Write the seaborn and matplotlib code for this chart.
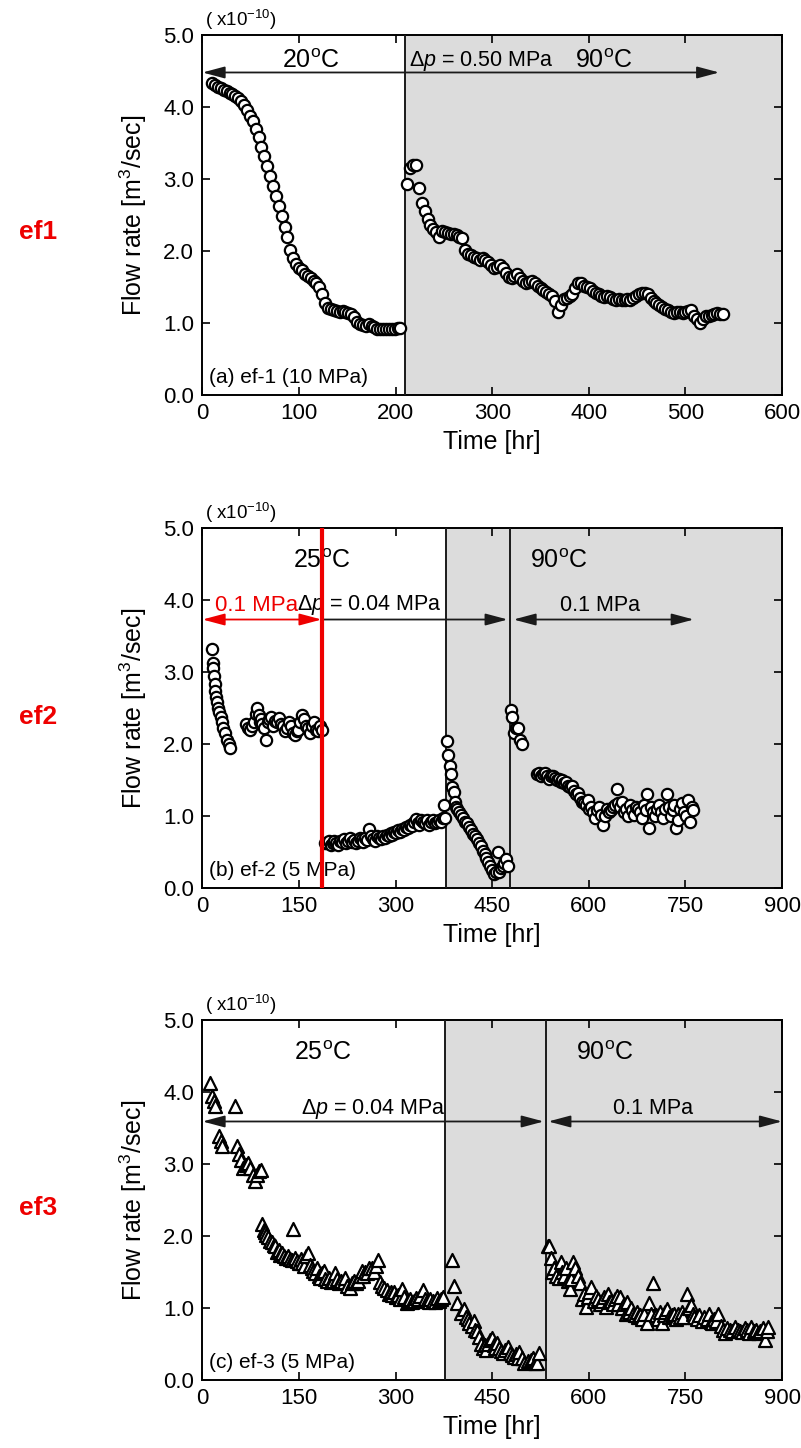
import numpy as np
import pandas as pd
import matplotlib
matplotlib.use('Agg')
import matplotlib.pyplot as plt
from matplotlib.ticker import FormatStrFormatter
import seaborn as sns

# ---------------- data ----------------
# panel (a) ef-1 : (time hr, flow rate x1e-10 m3/s)
ef1_20C = [(10,4.33),(13,4.31),(16,4.28),(19,4.26),(22,4.24),(25,4.22),(28,4.20),(31,4.18),(34,4.15),
           (37,4.12),(40,4.08),(43,4.03),(46,3.96),(49,3.88),(52,3.80),(55,3.70),(58,3.58),(61,3.45),
           (64,3.32),(67,3.18),(70,3.04),(73,2.90),(76,2.77),(79,2.62),(82,2.48),(85,2.34),(88,2.20),
           (91,2.02),(94,1.90),(97,1.82),(100,1.76),(103,1.73),(106,1.68),(109,1.65),(112,1.62),(115,1.58),
           (118,1.55),(121,1.50),(124,1.40),(127,1.28),(130,1.21),(133,1.19),(136,1.18),(139,1.17),(142,1.16),
           (145,1.17),(148,1.15),(151,1.14),(154,1.12),(157,1.08),(160,1.02),(163,0.99),(166,0.97),(169,0.96),
           (172,0.98),(175,0.96),(178,0.94),(181,0.92),(184,0.92),(187,0.92),(190,0.92),(193,0.92),(196,0.92),
           (199,0.92),(202,0.93),(205,0.93)]
ef1_90C = [(212,2.93),(215,3.15),(218,3.20),(221,3.20),(224,2.88),(227,2.67),(230,2.55),(233,2.45),(236,2.36),
           (239,2.30),(242,2.26),(245,2.20),(248,2.28),(251,2.27),(254,2.25),(257,2.24),(260,2.24),(263,2.22),
           (266,2.20),(269,2.18),(272,2.02),(275,1.96),(278,1.95),(281,1.92),(284,1.90),(287,1.88),(290,1.90),
           (293,1.88),(296,1.85),(299,1.80),(302,1.76),(305,1.78),(308,1.80),(311,1.76),(314,1.70),(317,1.64),
           (320,1.62),(323,1.65),(326,1.68),(329,1.62),(332,1.58),(335,1.56),(338,1.57),(341,1.58),(344,1.55),
           (347,1.52),(350,1.48),(353,1.46),(356,1.43),(359,1.40),(362,1.38),(365,1.30),(368,1.16),(371,1.25),
           (374,1.33),(377,1.35),(380,1.38),(383,1.40),(386,1.48),(389,1.56),(392,1.55),(395,1.52),(398,1.50),
           (401,1.48),(404,1.45),(407,1.42),(410,1.40),(413,1.38),(416,1.36),(419,1.37),(422,1.36),(425,1.34),
           (428,1.32),(431,1.33),(434,1.32),(437,1.32),(440,1.33),(443,1.32),(446,1.35),(449,1.38),(452,1.40),
           (455,1.42),(458,1.42),(461,1.40),(464,1.35),(467,1.30),(470,1.28),(473,1.25),(476,1.22),(479,1.20),
           (482,1.18),(485,1.16),(488,1.14),(491,1.15),(494,1.16),(497,1.14),(500,1.16),(503,1.17),(506,1.18),
           (509,1.10),(512,1.06),(515,1.00),(518,1.05),(521,1.10),(524,1.10),(527,1.11),(530,1.12),(533,1.14),
           (536,1.13),(539,1.12)]

# panel (b) ef-2
ef2_01MPa = [(15,3.32),(16,3.12),(17,3.05),(18,2.95),(19,2.84),(20,2.74),(21,2.65),(22,2.58),(24,2.50),
             (26,2.44),(28,2.38),(30,2.30),(32,2.23),(35,2.15),(38,2.05),(41,2.00),(43,1.94)]
ef2_25C_a = [(68,2.28),(71,2.22),(74,2.20),(77,2.25),(80,2.30),(83,2.42),(85,2.50),(87,2.40),(89,2.30),
             (91,2.35),(93,2.28),(95,2.22),(98,2.05),(101,2.30),(104,2.35),(107,2.38),(110,2.25),(113,2.32),
             (116,2.30),(119,2.36),(122,2.28),(125,2.25),(128,2.18),(131,2.22),(134,2.30),(137,2.25),(140,2.15),
             (143,2.12),(146,2.18),(149,2.20),(152,2.30),(155,2.40),(158,2.35),(161,2.25),(164,2.22),(167,2.15),
             (170,2.25),(173,2.30),(176,2.20),(179,2.18),(182,2.25),(185,2.20)]
ef2_25C_b = [(190,0.63),(193,0.62),(196,0.65),(199,0.60),(202,0.62),(205,0.66),(208,0.63),(211,0.60),(214,0.66),
             (217,0.64),(220,0.68),(223,0.62),(226,0.66),(229,0.70),(232,0.64),(235,0.67),(238,0.62),(241,0.66),
             (244,0.70),(247,0.68),(250,0.64),(253,0.70),(256,0.67),(259,0.82),(262,0.72),(265,0.68),(268,0.66),
             (271,0.72),(274,0.70),(277,0.68),(280,0.72),(283,0.70),(286,0.74),(289,0.72),(292,0.76),(295,0.74),
             (298,0.78),(301,0.76),(304,0.80),(307,0.78),(310,0.82),(313,0.80),(316,0.85),(319,0.83),(322,0.88),
             (325,0.86),(328,0.92),(331,0.96),(334,0.90),(337,0.88),(340,0.94),(343,0.92),(346,0.90),(349,0.95),
             (352,0.88),(355,0.92),(358,0.94),(361,0.90),(364,0.92),(367,0.95),(370,0.92),(373,0.98),(375,1.15)]
ef2_90C_a = [(377,0.97),(380,2.04),(382,1.85),(384,1.70),(386,1.58),(388,1.40),(390,1.33),(392,1.20),(394,1.12),
             (396,1.10),(399,1.05),(402,1.02),(405,0.98),(408,0.92),(411,0.90),(414,0.85),(417,0.80),(420,0.75),
             (423,0.72),(426,0.68),(429,0.62),(432,0.58),(435,0.52),(438,0.48),(441,0.42),(444,0.36),(447,0.30),
             (450,0.25),(453,0.20),(456,0.22),(459,0.50),(461,0.22),(463,0.28),(466,0.30),(469,0.35),(472,0.40),
             (475,0.30)]
ef2_90C_b = [(479,2.47),(481,2.38),(484,2.16),(487,2.22),(490,2.23),(493,2.05),(496,2.00)]
ef2_90C_c = [(520,1.58),(523,1.60),(526,1.56),(529,1.58),(532,1.60),(535,1.55),(538,1.52),(541,1.56),(544,1.55),
             (547,1.53),(550,1.50),(553,1.52),(556,1.48),(559,1.50),(562,1.46),(565,1.48),(568,1.42),(571,1.40),
             (574,1.42),(577,1.35),(580,1.30),(583,1.32),(586,1.25),(589,1.20),(592,1.18),(595,1.15),(598,1.22),
             (601,1.10),(604,1.12),(607,1.05),(610,0.98),(613,1.08),(616,1.12),(619,1.02),(622,0.88),(625,1.00),
             (628,1.10),(631,1.05),(634,1.08),(637,1.12),(640,1.15),(643,1.38),(646,1.18),(649,1.12),(652,1.20),
             (655,1.05),(658,1.10),(661,1.00),(664,1.15),(667,1.08),(670,1.02),(673,1.12),(676,1.10),(679,1.05),
             (682,0.98),(685,1.15),(688,1.08),(691,1.30),(694,0.84),(697,1.12),(700,1.05),(703,1.00),(706,1.10),
             (709,1.15),(712,1.05),(715,0.98),(718,1.10),(721,1.30),(724,1.12),(727,1.00),(730,1.08),(733,1.15),
             (736,0.84),(739,0.95),(742,1.10),(745,1.18),(748,1.05),(751,1.00),(754,1.22),(757,0.92),(760,1.12),
             (762,1.08)]

# panel (c) ef-3
ef3_25C = [(11,4.13),(15,3.95),(18,3.88),(20,3.81),(25,3.39),(28,3.32),(31,3.25),(51,3.81),(54,3.25),(57,3.14),
           (60,3.05),(63,2.95),(67,2.98),(71,3.02),(74,2.95),(78,2.85),(82,2.77),(85,2.84),(88,2.90),(91,2.92),
           (93,2.17),(95,2.08),(97,2.05),(99,2.02),(102,1.98),(105,1.93),(108,1.92),(111,1.88),(113,1.86),(116,1.78),
           (119,1.80),(121,1.74),(124,1.76),(127,1.72),(130,1.70),(133,1.72),(136,1.68),(139,1.66),(141,2.09),
           (144,1.70),(147,1.65),(150,1.62),(153,1.68),(155,1.62),(158,1.58),(161,1.72),(164,1.76),(167,1.60),
           (170,1.55),(172,1.52),(175,1.48),(178,1.55),(181,1.45),(183,1.42),(186,1.48),(188,1.52),(191,1.40),
           (194,1.38),(196,1.42),(199,1.36),(202,1.38),(206,1.48),(209,1.40),(212,1.35),(215,1.38),(219,1.36),
           (222,1.42),(225,1.30),(229,1.28),(232,1.35),(235,1.38),(238,1.34),(241,1.38),(244,1.45),(247,1.52),
           (250,1.45),(253,1.50),(256,1.48),(259,1.55),(263,1.56),(266,1.50),(269,1.58),(273,1.66),(276,1.36),
           (279,1.30),(282,1.28),(286,1.25),(289,1.20),(292,1.22),(295,1.18),(298,1.22),(301,1.15),(304,1.18),
           (307,1.12),(310,1.27),(313,1.15),(317,1.07),(320,1.10),(323,1.12),(326,1.08),(329,1.10),(332,1.14),
           (335,1.12),(338,1.16),(342,1.25),(345,1.12),(348,1.10),(351,1.08),(354,1.12),(358,1.10),(361,1.08),
           (364,1.14),(367,1.10),(370,1.12),(373,1.15)]
ef3_90C_a = [(387,1.67),(390,1.30),(396,1.07),(402,0.93),(406,0.98),(409,0.88),(412,0.85),(414,0.79),(418,0.75),
             (421,0.82),(423,0.70),(426,0.68),(430,0.60),(433,0.50),(435,0.45),(438,0.48),(441,0.42),(444,0.50),
             (447,0.55),(449,0.58),(452,0.48),(455,0.45),(458,0.52),(461,0.45),(463,0.40),(466,0.37),(470,0.42),
             (474,0.46),(477,0.38),(480,0.35),(484,0.32),(487,0.36),(490,0.30),(492,0.39),(496,0.30),(500,0.24),
             (505,0.26),(510,0.28),(513,0.30),(516,0.24),(519,0.24),(522,0.37)]
ef3_90C_b = [(536,1.86),(538,1.86),(541,1.70),(543,1.50),(546,1.55),(549,1.45),(553,1.41),(556,1.64),(559,1.50),
             (562,1.45),(565,1.55),(568,1.38),(570,1.27),(573,1.40),(576,1.64),(579,1.56),(583,1.45),(586,1.35),
             (590,1.13),(593,1.20),(595,1.02),(598,1.15),(601,1.22),(604,1.29),(608,1.10),(611,1.17),(614,1.12),
             (617,1.05),(620,1.10),(623,1.15),(626,1.01),(629,1.20),(632,1.08),(635,1.10),(638,1.05),(641,1.12),
             (643,1.17),(646,1.05),(649,1.15),(652,1.00),(655,1.05),(657,0.92),(660,1.08),(663,0.95),(666,1.00),
             (669,0.92),(672,0.90),(675,0.95),(677,0.88),(680,0.90),(683,0.85),(686,0.92),(690,0.79),(694,1.07),
             (697,0.92),(700,1.35),(704,0.90),(707,0.85),(710,0.95),(713,0.79),(716,0.90),(719,0.95),(722,0.99),
             (725,0.88),(729,0.90),(732,0.92),(735,0.85),(738,0.92),(741,0.88),(744,0.95),(747,0.88),(752,1.20),
             (755,1.00),(758,1.04),(761,0.92),(764,0.88),(768,0.85),(771,0.90),(775,0.82),(779,0.88),(783,0.85),
             (786,0.92),(789,0.80),(792,0.79),(795,0.85),(798,0.82),(801,0.92),(805,0.75),(809,0.70),(812,0.65),
             (815,0.72),(819,0.70),(823,0.68),(827,0.73),(831,0.70),(835,0.68),(838,0.67),(842,0.72),(846,0.70),
             (849,0.65),(852,0.73),(856,0.68),(860,0.70),(863,0.65),(866,0.68),(870,0.72),(873,0.55),(876,0.68),
             (878,0.73)]

# condition boundaries (hr)
ef1_switch = [210]
ef2_switch = [378, 478]
ef2_red_line = 185
ef3_switch = [376, 533]

# ---------------- style ----------------
sns.set_theme(style='ticks')
plt.rcParams['font.family'] = ['Liberation Sans', 'DejaVu Sans']
plt.rcParams['mathtext.fontset'] = 'custom'
plt.rcParams['mathtext.rm'] = 'Liberation Sans'
plt.rcParams['mathtext.it'] = 'Liberation Sans:italic'
plt.rcParams['mathtext.bf'] = 'Liberation Sans:bold'
for k in ['text.color', 'axes.labelcolor', 'xtick.color', 'ytick.color', 'axes.edgecolor']:
    plt.rcParams[k] = 'black'

GRAY = '#dcdcdc'
RED = '#ee0000'
TICK_FS = 16
LABEL_FS = 18
TEMP_FS = 18
DP_FS = 15.5


def to_df(*segs):
    rows = [p for s in segs for p in s]
    return pd.DataFrame(rows, columns=['t', 'q'])


def style(ax, xmax, xstep):
    ax.set_xlim(0, xmax)
    ax.set_ylim(0, 5)
    ax.set_xticks(np.arange(0, xmax + 1, xstep))
    ax.set_yticks(np.arange(0, 5.01, 1.0))
    ax.yaxis.set_major_formatter(FormatStrFormatter('%.1f'))
    ax.tick_params(direction='in', top=True, right=True, length=6, width=1.2,
                   labelsize=TICK_FS, pad=6, colors='black')
    for s in ax.spines.values():
        s.set_visible(True)
        s.set_linewidth(1.4)
        s.set_color('black')
    ax.set_xlabel('Time [hr]', fontsize=LABEL_FS, labelpad=4, color='black')
    ax.set_ylabel('Flow rate [m$^3$/sec]', fontsize=LABEL_FS, labelpad=10, color='black')
    ax.text(0.004, 1.008, '( x10$^{-10}$)', transform=ax.transAxes, fontsize=13.5,
            va='bottom', ha='left')
    ax.set_facecolor('white')


def arrow(ax, x0, x1, y, style_='<|-|>', color='k'):
    ax.annotate('', xy=(x1, y), xytext=(x0, y),
                arrowprops=dict(arrowstyle=f'{style_},head_length=0.75,head_width=0.2',
                                color=color, lw=1.3, shrinkA=0, shrinkB=0,
                                mutation_scale=18), zorder=5)


fig = plt.figure(figsize=(8.01, 14.48), dpi=100)
L, W, H = 0.2528, 0.7235, 0.2486
ax1 = fig.add_axes([L, 0.7272, W, H])
ax2 = fig.add_axes([L, 0.3867, W, H])
ax3 = fig.add_axes([L, 0.0470, W, H])

circ = dict(marker='o', s=66, facecolor='white', edgecolor='black', linewidth=1.6,
            legend=False, zorder=4)
tri = dict(marker='^', s=88, facecolor='white', edgecolor='black', linewidth=1.6,
           legend=False, zorder=4)

# ---- panel a ----
style(ax1, 600, 100)
ax1.axvspan(ef1_switch[0], 600, color=GRAY, zorder=0, lw=0)
ax1.axvline(ef1_switch[0], color='k', lw=1.4, zorder=3)
sns.scatterplot(data=to_df(ef1_20C, ef1_90C), x='t', y='q', ax=ax1, **circ)
arrow(ax1, 0, 535, 4.48)
ax1.text(112, 4.64, '20$^{\\rm o}$C', fontsize=TEMP_FS, ha='center', va='center')
ax1.text(214, 4.64, '$\\Delta p$ = 0.50 MPa', fontsize=DP_FS, ha='left', va='center')
ax1.text(415, 4.64, '90$^{\\rm o}$C', fontsize=TEMP_FS, ha='center', va='center')
ax1.text(0.012, 0.048, '(a) ef-1 (10 MPa)', transform=ax1.transAxes, fontsize=15,
         ha='left', va='center')

# ---- panel b ----
style(ax2, 900, 150)
ax2.axvspan(ef2_switch[0], 900, color=GRAY, zorder=0, lw=0)
for xv in ef2_switch:
    ax2.axvline(xv, color='k', lw=1.4, zorder=3)
sns.scatterplot(data=to_df(ef2_01MPa, ef2_25C_a, ef2_25C_b, ef2_90C_a, ef2_90C_b, ef2_90C_c),
                x='t', y='q', ax=ax2, **circ)
ax2.axvline(ef2_red_line, color=RED, lw=3, zorder=6)
arrow(ax2, 0, ef2_red_line, 3.73, color=RED)
arrow(ax2, ef2_red_line, 474, 3.73, style_='-|>')
arrow(ax2, 483, 763, 3.73)
ax2.text(185, 4.54, '25$^{\\rm o}$C', fontsize=TEMP_FS, ha='center', va='center')
ax2.text(554, 4.54, '90$^{\\rm o}$C', fontsize=TEMP_FS, ha='center', va='center')
ax2.text(19, 3.93, '0.1 MPa', fontsize=16, ha='left', va='center', color=RED)
ax2.text(147, 3.93, '$\\Delta p$ = 0.04 MPa', fontsize=DP_FS, ha='left', va='center')
ax2.text(617, 3.93, '0.1 MPa', fontsize=DP_FS, ha='center', va='center')
ax2.text(0.012, 0.048, '(b) ef-2 (5 MPa)', transform=ax2.transAxes, fontsize=15,
         ha='left', va='center')

# ---- panel c ----
style(ax3, 900, 150)
ax3.axvspan(ef3_switch[0], 900, color=GRAY, zorder=0, lw=0)
for xv in ef3_switch:
    ax3.axvline(xv, color='k', lw=1.4, zorder=3)
sns.scatterplot(data=to_df(ef3_25C, ef3_90C_a, ef3_90C_b), x='t', y='q', ax=ax3, **tri)
arrow(ax3, 0, 530, 3.59)
arrow(ax3, 537, 900, 3.59)
ax3.text(186, 4.54, '25$^{\\rm o}$C', fontsize=TEMP_FS, ha='center', va='center')
ax3.text(624, 4.54, '90$^{\\rm o}$C', fontsize=TEMP_FS, ha='center', va='center')
ax3.text(266, 3.77, '$\\Delta p$ = 0.04 MPa', fontsize=DP_FS, ha='center', va='center')
ax3.text(700, 3.77, '0.1 MPa', fontsize=DP_FS, ha='center', va='center')
ax3.text(0.012, 0.048, '(c) ef-3 (5 MPa)', transform=ax3.transAxes, fontsize=15,
         ha='left', va='center')

# ---- side labels ----
for name, yy in [('ef1', 0.840), ('ef2', 0.505), ('ef3', 0.166)]:
    fig.text(0.047, yy, name, color=RED, fontsize=19, fontweight='bold',
             ha='center', va='center')

fig.savefig('out.png', dpi=100)
